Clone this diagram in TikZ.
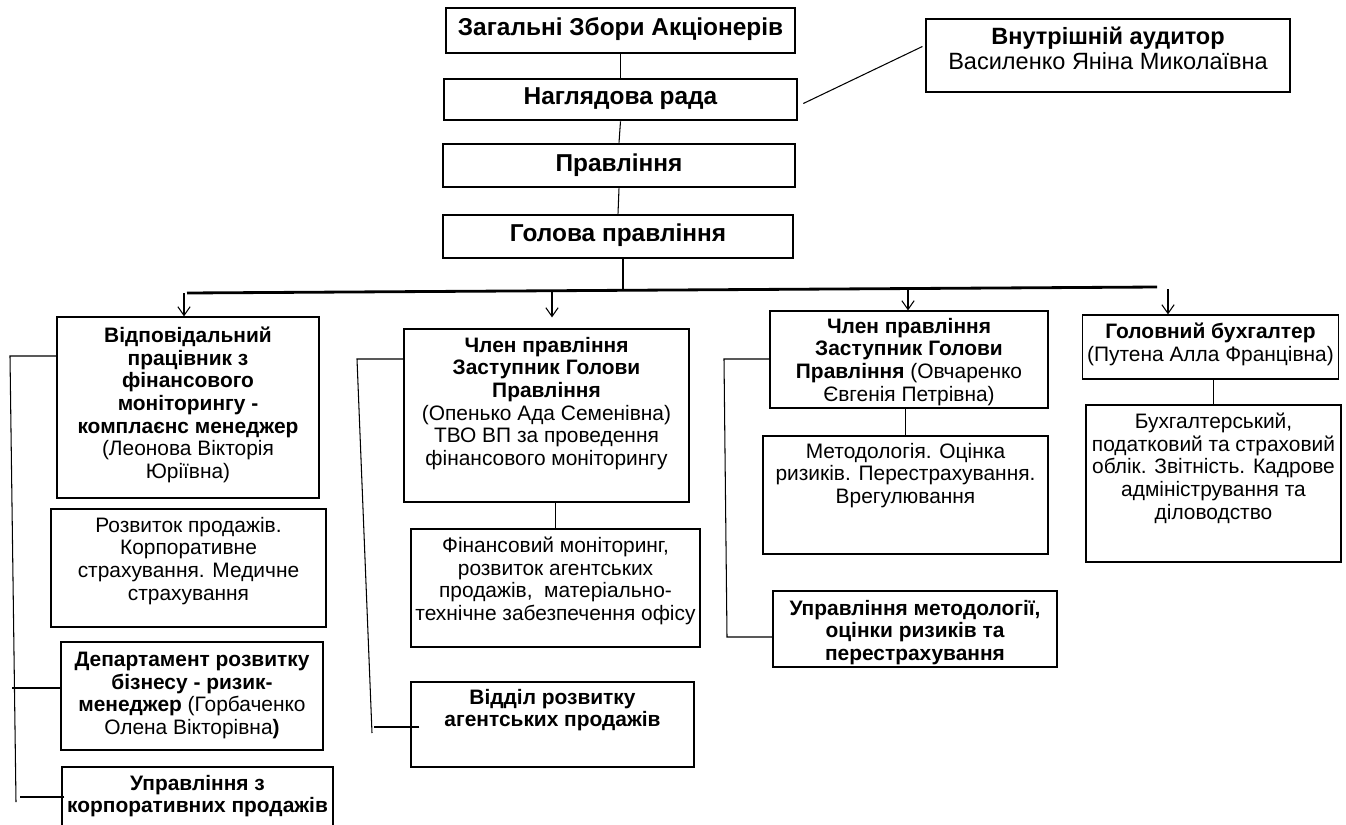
\documentclass[tikz,border=0pt]{standalone}
\usepackage{fontspec}
\setmainfont{Liberation Sans}
\usetikzlibrary{arrows.meta,calc}
\newlength{\px}
\setlength{\px}{0.02cm}
\newcommand{\inbox}[4]{\parbox[c][#2\px][t]{#1\px}{\centering\vspace*{#3\px}#4}}
\begin{document}
\begin{tikzpicture}[x=0.02cm,y=-0.02cm]

    \tikzset{
      unit/.style={
        draw,
        inner sep=0pt,
        line width=0.7pt,
        font=\fontsize{11.9}{12.9}\selectfont,
      },
      head/.style={unit, line width=1.5pt, font=\fontsize{13.9}{15}\selectfont},
      link/.style={line width=0.6pt},
      bus/.style={line width=1.6pt},
      arr/.style={line width=0.6pt, -{Straight Barb[length=5pt,width=7pt]}},
    }
    \useasboundingbox (0,0) rectangle (1346,825);
    \clip (0,0) rectangle (1346,825);
	\node[head] (gsa) at (620.5,30.5) {\inbox{349}{45}{10}{\textbf{Загальні Збори Акціонерів}}};
	\node[head] (board) at (620.5,99.5) {\inbox{353}{41}{9}{\textbf{Наглядова рада}}};
	\node[head] (mgmt) at (619,165.5) {\inbox{352}{43}{10}{\textbf{Правління}}};
	\node[head] (chair) at (618,236.5) {\inbox{350}{43}{9}{\textbf{Голова правління}}};
	\node[unit, font=\fontsize{13.4}{14.2}\selectfont] (audit) at (1108,55.5) {\inbox{364}{73}{8}{\textbf{Внутрішній аудитор}\\Василенко Яніна Миколаївна}};
	\node[unit] (compl) at (188,407.5) {\inbox{262}{181}{10}{\textbf{Відповідальний\\працівник з\\фінансового\\моніторингу -\\комплаєнс менеджер}\\(Леонова Вікторія\\Юріївна)}};
	\node[unit] (sales) at (188.5,568) {\inbox{275}{118}{8}{Розвиток продажів.\\Корпоративне\\страхування. Медичне\\страхування}};
	\node[unit] (bizdev) at (192,696) {\inbox{262}{108}{10}{\textbf{Департамент розвитку\\бізнесу - ризик-\\менеджер} (Горбаченко\\Олена Вікторівна\textbf{)}}};
	\node[unit] (corp) at (197.5,802) {\inbox{271}{70}{8}{\textbf{Управління з\\корпоративних продажів}}};
	\node[unit] (depOp) at (546.5,415.5) {\inbox{285}{173}{8}{\textbf{Член правління\\Заступник Голови\\Правління}\\(Опенько Ада Семенівна)\\ТВО ВП за проведення\\фінансового моніторингу}};
	\node[unit] (finmon) at (555.5,588) {\inbox{289}{118}{8}{Фінансовий моніторинг,\\розвиток агентських\\продажів,~ матеріально-\\технічне забезпечення офісу}};
	\node[unit] (agent) at (552.5,724.5) {\inbox{283}{85}{7}{\textbf{Відділ розвитку\\агентських продажів}}};
	\node[unit] (depOv) at (909,359.5) {\inbox{278}{97}{7}{\textbf{Член правління\\Заступник Голови\\Правління} (Овчаренко\\Євгенія Петрівна)}};
	\node[unit] (method) at (905.5,495) {\inbox{285}{118}{7}{Методологія. Оцінка\\ризиків. Перестрахування.\\Врегулювання}};
	\node[unit] (riskdep) at (915,629) {\inbox{284}{76}{9}{\textbf{Управління методології,\\оцінки ризиків та\\перестрахування}}};
	\node[unit] (chacc) at (1210.5,347) {\inbox{256}{64}{8}{\textbf{Головний бухгалтер}\\(Путена Алла Францівна)}};
	\node[unit] (accnt) at (1213.5,483.5) {\inbox{255}{157}{8}{Бухгалтерський,\\податковий та страховий\\облік. Звітність. Кадрове\\адміністрування та\\діловодство}};

	\coordinate (busL) at (187,293);
	\coordinate (busR) at (1157,287);
	\coordinate (busJ) at (623,290);
	\coordinate (a1) at (184,293);
	\coordinate (a2) at (552,291);
	\coordinate (a3) at (908,289);
	\coordinate (a4) at (1168,289);
	\coordinate (lA1) at (10,356);
	\coordinate (lA2) at (16,802);
	\coordinate (lB1) at (357,359);
	\coordinate (lB2) at (372,733);
	\coordinate (lC1) at (724,359);
	\coordinate (lC2) at (727,637);

	\draw[link] (gsa.south) -- (board.north);
	\draw[link] (board.south) -- (mgmt.north);
	\draw[link] (mgmt.south) -- (chair.north);
	\draw[link] (chair.south -| busJ) -- (busJ);
	\draw[link] ($(board.east)+(5,4)$) -- ($(audit.west)+(-3,-9)$);
	\draw[bus] (busL) -- (busR);
	\draw[arr] (a1) -- (compl.north -| a1);
	\draw[arr] (a2) -- ($(depOp.north -| a2)+(0,-11)$);
	\draw[arr] (a3) -- (depOv.north -| a3);
	\draw[arr] (a4) -- (chacc.north -| a4);
	\draw[link] (depOp.south -| finmon.north) -- (finmon.north);
	\draw[link] (depOv.south -| method.north) -- (method.north);
	\draw[link] (chacc.south -| accnt.north) -- (accnt.north);
	\draw[link] (compl.west |- lA1) -- (lA1) -- (lA2);
	\draw[link] ($(bizdev.west)+(0,-8)$) -- ++(-48,0);
	\draw[link] ($(corp.west)+(3,-5)$) -- ++(-44,0);
	\draw[link] (depOp.west |- lB1) -- (lB1) -- (lB2);
	\draw[link] ($(agent.west)+(9,2.5)$) -- ++(-45,0);
	\draw[link] (depOv.west |- lC1) -- (lC1) -- (lC2) -- (riskdep.west |- lC2);

\end{tikzpicture}
\end{document}
